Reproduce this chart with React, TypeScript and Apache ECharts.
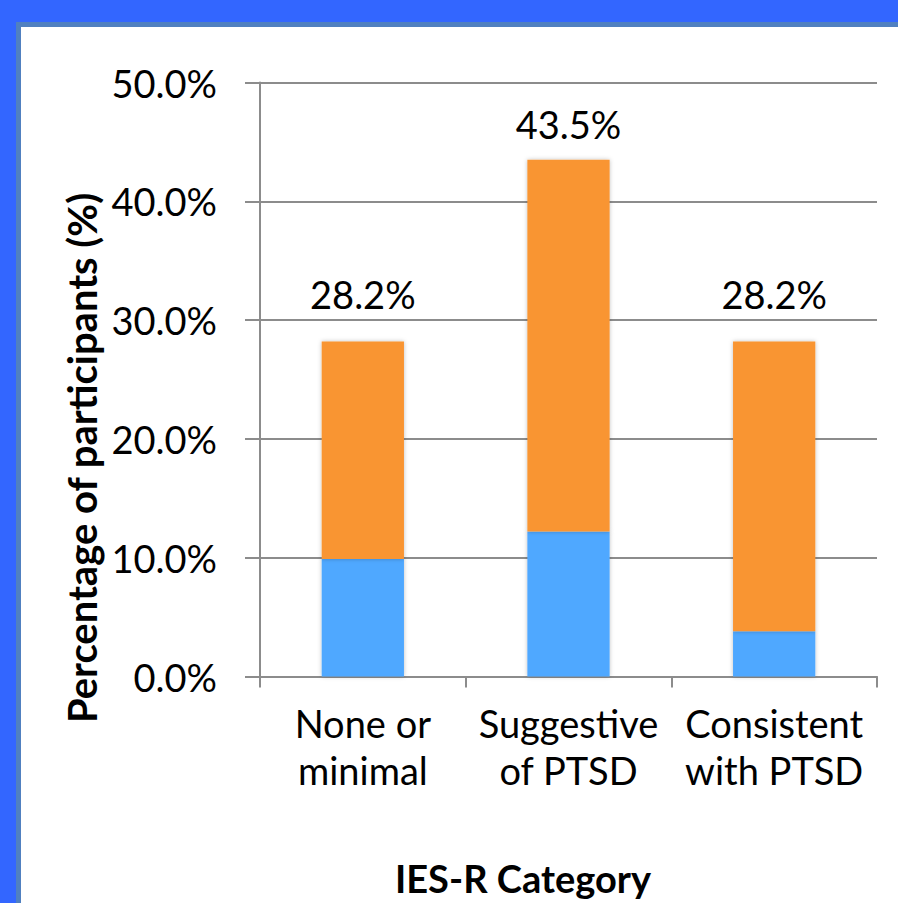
import React, { useEffect, useRef } from "react";
import * as echarts from "echarts";

// IES-R categories shown on the x axis (two-line labels)
const categories = ["None or\nminimal", "Suggestive\nof PTSD", "Consistent\nwith PTSD"];
// Total percentage of participants in each category (printed above each bar)
const totals = [28.2, 43.5, 28.2];
// Lower (blue) part of each stacked bar
const lowerPart = [9.9, 12.2, 3.8];
// Upper (orange) part fills the rest of the total
const upperPart = totals.map((t, i) => +(t - lowerPart[i]).toFixed(1));
// Y axis range / step
const yMin = 0;
const yMax = 50;
const yStep = 10;

const FONT = "Lato, 'Open Sans', sans-serif";
// gap between each total label and its bar
const labelGaps = [28, 17, 28];

export default function App() {
  const ref = useRef<HTMLDivElement>(null);

  useEffect(() => {
    if (!ref.current) return;
    const chart = echarts.init(ref.current, null, { renderer: "svg" });
    const W = 898;
    const H = 903;
    chart.setOption({
      animation: false,
      backgroundColor: "#3366FF",
      graphic: [
        { type: "rect", z: -10, shape: { x: 16, y: 22, width: W - 16, height: H - 22 }, style: { fill: "#5080C0" }, silent: true },
        { type: "rect", z: -10, shape: { x: 21, y: 27, width: W - 21, height: H - 27 }, style: { fill: "#FFFFFF" }, silent: true },
        {
          type: "text",
          x: 82,
          y: 458,
          rotation: Math.PI / 2,
          style: {
            text: "Percentage of participants (%)",
            font: `bold 40px ${FONT}`,
            fill: "#000",
            align: "center",
            verticalAlign: "middle",
          },
        },
        {
          type: "text",
          x: 523,
          y: 878,
          style: {
            text: "IES-R Category",
            font: `bold 38px ${FONT}`,
            lineHeight: 40,
            fill: "#000",
            align: "center",
            verticalAlign: "middle",
          },
        },
      ],
      grid: { left: 260, top: 82.5, right: 21, bottom: 226.5, containLabel: false },
      xAxis: {
        type: "category",
        data: categories,
        boundaryGap: true,
        axisLine: { show: true, lineStyle: { color: "#8c8c8c", width: 2 } },
        axisTick: { show: true, inside: false, length: 11, alignWithLabel: false, lineStyle: { color: "#8c8c8c", width: 2 } },
        axisLabel: {
          interval: 0,
          margin: 23,
          color: "#000",
          fontFamily: FONT,
          fontSize: 38,
          lineHeight: 47,
        },
        splitLine: { show: false },
      },
      yAxis: {
        type: "value",
        min: yMin,
        max: yMax,
        interval: yStep,
        axisLine: { show: true, lineStyle: { color: "#8c8c8c", width: 2 } },
        axisTick: { show: true, inside: false, length: 15, lineStyle: { color: "#8c8c8c", width: 2 } },
        axisLabel: {
          margin: 43,
          color: "#000",
          fontFamily: FONT,
          fontSize: 38,
          padding: [0, 0, 4, 0],
          formatter: (v: number) => v.toFixed(1) + "%",
        },
        splitLine: { show: true, lineStyle: { color: "#8c8c8c", width: 2 } },
      },
      series: [
        {
          type: "bar",
          stack: "total",
          data: lowerPart,
          barWidth: "40%",
          itemStyle: { color: "#4FA8FF", shadowBlur: 4, shadowColor: "rgba(0,0,0,0.25)" },
        },
        {
          type: "bar",
          stack: "total",
          data: upperPart.map((v, i) => ({ value: v, label: { distance: labelGaps[i] } })),
          barWidth: "40%",
          itemStyle: { color: "#F99532", shadowBlur: 4, shadowColor: "rgba(0,0,0,0.25)" },
          label: {
            show: true,
            position: "top",
            color: "#000",
            fontFamily: FONT,
            fontSize: 38,
            formatter: (p: any) => totals[p.dataIndex].toFixed(1) + "%",
          },
        },
      ],
    });
    return () => chart.dispose();
  }, []);

  return (
    <div
      ref={ref}
      style={{ position: "absolute", left: 0, top: 0, width: 898, height: 903 }}
    />
  );
}
